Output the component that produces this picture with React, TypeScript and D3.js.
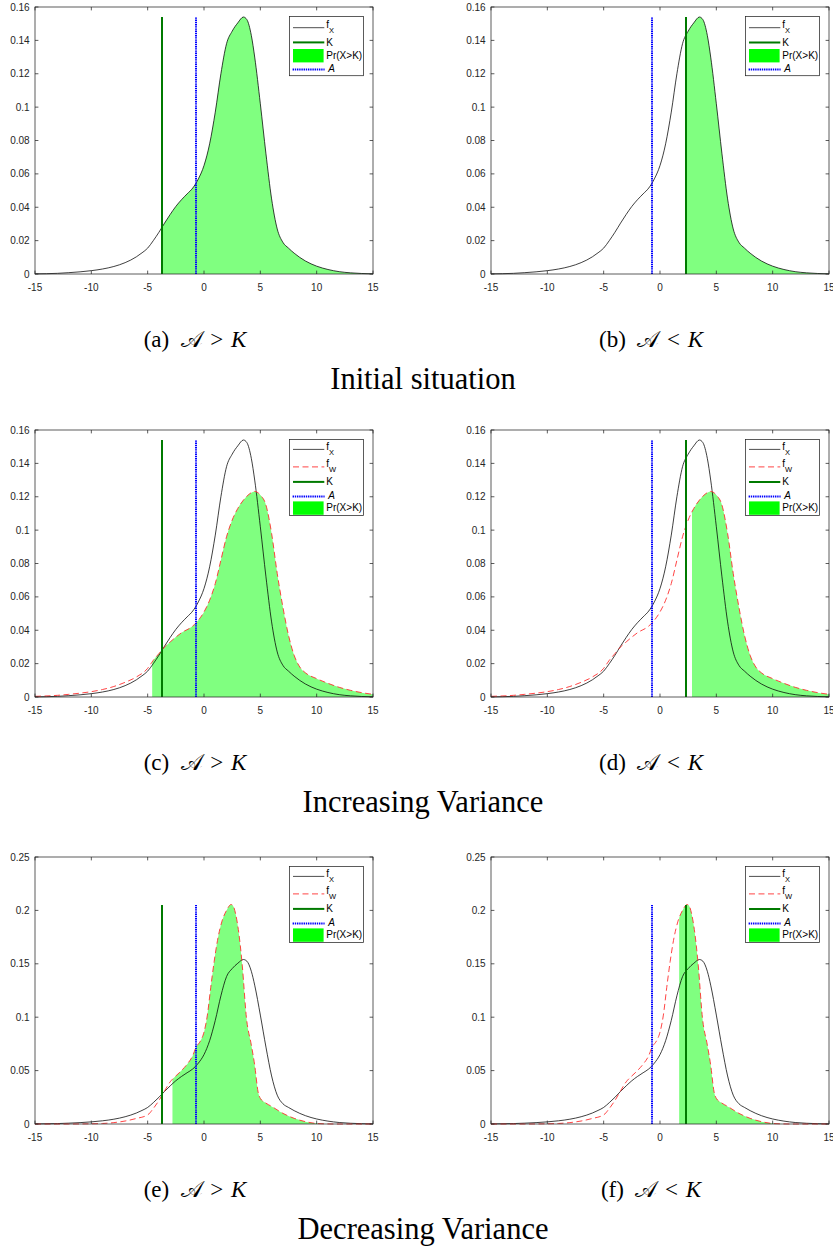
import React from 'react';
import * as d3 from 'd3';

// density of X (same in every panel)
const fxX = [-15, -13, -12, -11, -10, -9, -8, -7, -6, -5.5, -5, -4.5, -4, -3.5, -3, -2.5, -2, -1.5, -1, -0.5, 0, 0.5, 1, 1.5, 2, 2.5, 3, 3.5, 3.8, 4.2, 4.5, 5, 5.5, 6, 6.5, 7, 7.5, 8, 9, 10, 11, 12, 13, 14, 15];
const fxY = [0.0001, 0.0004, 0.0008, 0.0013, 0.002, 0.003, 0.0045, 0.0068, 0.0103, 0.0127, 0.0155, 0.02, 0.025, 0.0305, 0.0357, 0.0405, 0.0445, 0.048, 0.0515, 0.057, 0.065, 0.078, 0.097, 0.12, 0.138, 0.1455, 0.1505, 0.154, 0.1525, 0.143, 0.13, 0.102, 0.072, 0.045, 0.027, 0.019, 0.0155, 0.0125, 0.0078, 0.0047, 0.0027, 0.0014, 0.0007, 0.0003, 0.0001];

// density of W, increasing variance
const fwIncX = [-15, -13, -12, -11, -10, -9, -8, -7, -6, -5, -4.5, -4, -3.5, -3, -2, -1, -0.5, 0, 0.5, 1, 1.5, 2, 2.5, 3, 3.5, 4, 4.5, 5, 5.5, 6, 6.5, 7, 7.5, 8, 8.5, 9, 10, 11, 12, 13, 14, 15];
const fwIncY = [0.0004, 0.001, 0.0016, 0.0023, 0.0032, 0.0045, 0.0063, 0.0088, 0.012, 0.0172, 0.022, 0.026, 0.03, 0.033, 0.0385, 0.0425, 0.046, 0.051, 0.058, 0.068, 0.082, 0.096, 0.106, 0.113, 0.118, 0.1215, 0.1232, 0.121, 0.115, 0.098, 0.074, 0.054, 0.037, 0.025, 0.018, 0.0145, 0.011, 0.0082, 0.0058, 0.004, 0.0026, 0.0016];

// density of W, decreasing variance
const fwDecX = [-15, -12, -10, -9, -8, -7, -6, -5, -4.5, -4, -3.5, -3, -2.5, -2, -1.5, -1, -0.7, -0.3, 0, 0.3, 0.6, 0.9, 1.2, 1.6, 2, 2.4, 2.6, 2.8, 3.1, 3.4, 3.76, 4.2, 4.5, 4.8, 5, 5.5, 6, 7, 8, 9, 10, 11, 12, 15];
const fwDecY = [0, 0, 0.0002, 0.0005, 0.0013, 0.0028, 0.0052, 0.0085, 0.0145, 0.022, 0.031, 0.0395, 0.045, 0.05, 0.056, 0.064, 0.072, 0.078, 0.086, 0.102, 0.128, 0.152, 0.172, 0.19, 0.2, 0.2055, 0.204, 0.197, 0.178, 0.148, 0.1, 0.074, 0.055, 0.03, 0.024, 0.0195, 0.0165, 0.01, 0.0053, 0.0022, 0.0005, 0.0001, 0, 0];

const xTicks = [-15, -10, -5, 0, 5, 10, 15];
const xTickLabels = ['-15', '-10', '-5', '0', '5', '10', '15'];
const yTicksSmall = [0, 0.02, 0.04, 0.06, 0.08, 0.1, 0.12, 0.14, 0.16];
const yTickLabelsSmall = ['0', '0.02', '0.04', '0.06', '0.08', '0.1', '0.12', '0.14', '0.16'];
const yTicksLarge = [0, 0.05, 0.1, 0.15, 0.2, 0.25];
const yTickLabelsLarge = ['0', '0.05', '0.1', '0.15', '0.2', '0.25'];

const kValues = [-3.75, 2.3];
const aValue = -0.75;
const fillStarts = [-3.75, 2.3, -4.6, 2.85, -2.8, 1.7];
const panelLetters = ['a', 'b', 'c', 'd', 'e', 'f'];
const relations = ['>', '<'];
const rowTitles = ['Initial situation', 'Increasing Variance', 'Decreasing Variance'];
const legendItems1 = ['fX', 'K', 'Pr', 'A'];
const legendItems23 = ['fX', 'fW', 'K', 'A', 'Pr'];

const zip = (xs: number[], ys: number[]) => xs.map((x, i) => [x, ys[i]] as [number, number]);

const PW = 338, PH = 267;
const colX = [35, 491];
const rowY = [7, 430, 857];
const AX = '#262626';
const SANS = '"Liberation Sans", Arial, Helvetica, sans-serif';
const SERIF = '"Liberation Serif", "Times New Roman", serif';
const KGREEN = '#007a00';
const ABLUE = '#0000ff';

function LegendEntry({ kind, y }: { kind: string; y: number }) {
  const x1 = 3.4, x2 = 34.7, tx = 36.7;
  if (kind === 'fX' || kind === 'fW') {
    return (
      <g>
        {kind === 'fX'
          ? <line x1={x1} x2={x2} y1={y} y2={y} stroke="#000" strokeWidth={0.7} />
          : <line x1={x1} x2={x2} y1={y} y2={y} stroke="#ff3030" strokeWidth={0.9} strokeDasharray="6 3.5" />}
        <text x={tx} y={y + 0.5} fontSize={10} fill="#000" fontFamily={SANS}>
          f<tspan fontSize={7.5} dy={4.8}>{kind === 'fX' ? 'X' : 'W'}</tspan>
        </text>
      </g>
    );
  }
  if (kind === 'K') {
    return (
      <g>
        <line x1={x1} x2={x2} y1={y} y2={y} stroke={KGREEN} strokeWidth={2} />
        <text x={tx} y={y + 3.4} fontSize={10} fill="#000" fontFamily={SANS}>K</text>
      </g>
    );
  }
  if (kind === 'A') {
    const yy = Math.round(y);
    return (
      <g>
        <line x1={3} x2={35} y1={yy} y2={yy} stroke={ABLUE} strokeWidth={2} strokeDasharray="1.4 0.8" />
        <text x={tx + 2} y={y + 3.4} fontSize={10} fill="#000" fontStyle="italic" fontFamily={SANS}>A</text>
      </g>
    );
  }
  return (
    <g>
      <rect x={x1} y={y - 6.7} width={30.6} height={13.4} fill="#00ff00" />
      <text x={tx} y={y + 3.4} fontSize={10} fill="#000" fontFamily={SANS}>Pr(X&gt;K)</text>
    </g>
  );
}

function Panel({ row, col }: { row: number; col: number }) {
  const idx = row * 2 + col;
  const yMax = row === 2 ? 0.25 : 0.16;
  const yTicks = row === 2 ? yTicksLarge : yTicksSmall;
  const yLabels = row === 2 ? yTickLabelsLarge : yTickLabelsSmall;
  const fx = zip(fxX, fxY);
  const fw = row === 1 ? zip(fwIncX, fwIncY) : row === 2 ? zip(fwDecX, fwDecY) : null;
  const fillPts = fw || fx;
  const K = kValues[col];
  const vTop = d3.max([...fx, ...(fw || [])], d => d[1]) as number;

  const xs = d3.scaleLinear().domain([-15, 15]).range([0, PW]);
  const ys = d3.scaleLinear().domain([0, yMax]).range([PH, 0]);
  const line = d3.line<[number, number]>().x(d => xs(d[0])).y(d => ys(d[1])).curve(d3.curveMonotoneX);
  const area = d3.area<[number, number]>().x(d => xs(d[0])).y0(PH).y1(d => ys(d[1])).curve(d3.curveMonotoneX);
  const fs = xs(fillStarts[idx]);
  const items = row === 0 ? legendItems1 : legendItems23;
  const offs = row === 0 ? [11.3, 26, 39.3, 52.6] : [10, 27.5, 42.5, 56.5, 68.7];
  const legH = row === 0 ? 59.3 : 76;
  const tl = 3.4;
  const kx = Math.round(xs(K));
  const ax = Math.round(xs(aValue));

  return (
    <g transform={`translate(${colX[col]},${rowY[row]})`}>
      <clipPath id={`clip-${idx}`}>
        <rect x={fs} y={-2} width={PW - fs} height={PH + 4} />
      </clipPath>
      <path d={area(fillPts) || ''} fill="#80ff80" clipPath={`url(#clip-${idx})`} />
      <path d={line(fx) || ''} fill="none" stroke="#000" strokeWidth={0.75} />
      {fw && <path d={line(fw) || ''} fill="none" stroke="#ff3030" strokeWidth={0.9} strokeDasharray="6 3.5" />}
      <line x1={kx} x2={kx} y1={ys(0)} y2={Math.round(ys(vTop))} stroke={KGREEN} strokeWidth={2} />
      <line x1={ax} x2={ax} y1={ys(0)} y2={Math.round(ys(vTop))} stroke={ABLUE} strokeWidth={2}
        strokeDasharray="1.4 0.8" />

      <rect x={0} y={0} width={PW} height={PH} fill="none" stroke={AX} strokeWidth={0.75} />
      {xTicks.map((t, i) => (
        <g key={'x' + t}>
          <line x1={xs(t)} x2={xs(t)} y1={PH} y2={PH - tl} stroke={AX} strokeWidth={0.75} />
          <line x1={xs(t)} x2={xs(t)} y1={0} y2={tl} stroke={AX} strokeWidth={0.75} />
          <text x={xs(t)} y={PH + 16.5} textAnchor="middle" fontSize={10} fill={AX} fontFamily={SANS}>{xTickLabels[i]}</text>
        </g>
      ))}
      {yTicks.map((t, i) => (
        <g key={'y' + t}>
          <line x1={0} x2={tl} y1={ys(t)} y2={ys(t)} stroke={AX} strokeWidth={0.75} />
          <line x1={PW} x2={PW - tl} y1={ys(t)} y2={ys(t)} stroke={AX} strokeWidth={0.75} />
          <text x={-5.4} y={ys(t) + 3.6} textAnchor="end" fontSize={10} fill={AX} fontFamily={SANS}>{yLabels[i]}</text>
        </g>
      ))}

      <g transform={`translate(${254.6},${9.4})`}>
        <rect x={0} y={0} width={74} height={legH} fill="#fff" stroke={AX} strokeWidth={0.75} />
        {items.map((k, i) => <LegendEntry key={k} kind={k} y={offs[i]} />)}
      </g>
    </g>
  );
}

export default function App() {
  return (
    <svg width={833} height={1247} style={{ position: 'absolute', left: 0, top: 0, background: '#fff' }}>
      {[0, 1, 2].map(row => (
        <g key={row}>
          {[0, 1].map(col => <Panel key={col} row={row} col={col} />)}
          {[0, 1].map(col => (
            <text key={'c' + col} x={colX[col] + PW / 2 - 9} y={rowY[row] + PH + 73} textAnchor="middle"
              fontSize={23} fontFamily={SERIF} fill="#000" style={{ whiteSpace: 'pre' }}>
              {`(${panelLetters[row * 2 + col]})\u2002`}
              <tspan>{'\u{1D49C}'}</tspan>
              {`\u2004${relations[col]}\u2004`}
              <tspan fontStyle="italic">K</tspan>
            </text>
          ))}
          <text x={423} y={rowY[row] + PH + 115} textAnchor="middle" fontSize={30.5} fontFamily={SERIF} fill="#000">
            {rowTitles[row]}
          </text>
        </g>
      ))}
    </svg>
  );
}
